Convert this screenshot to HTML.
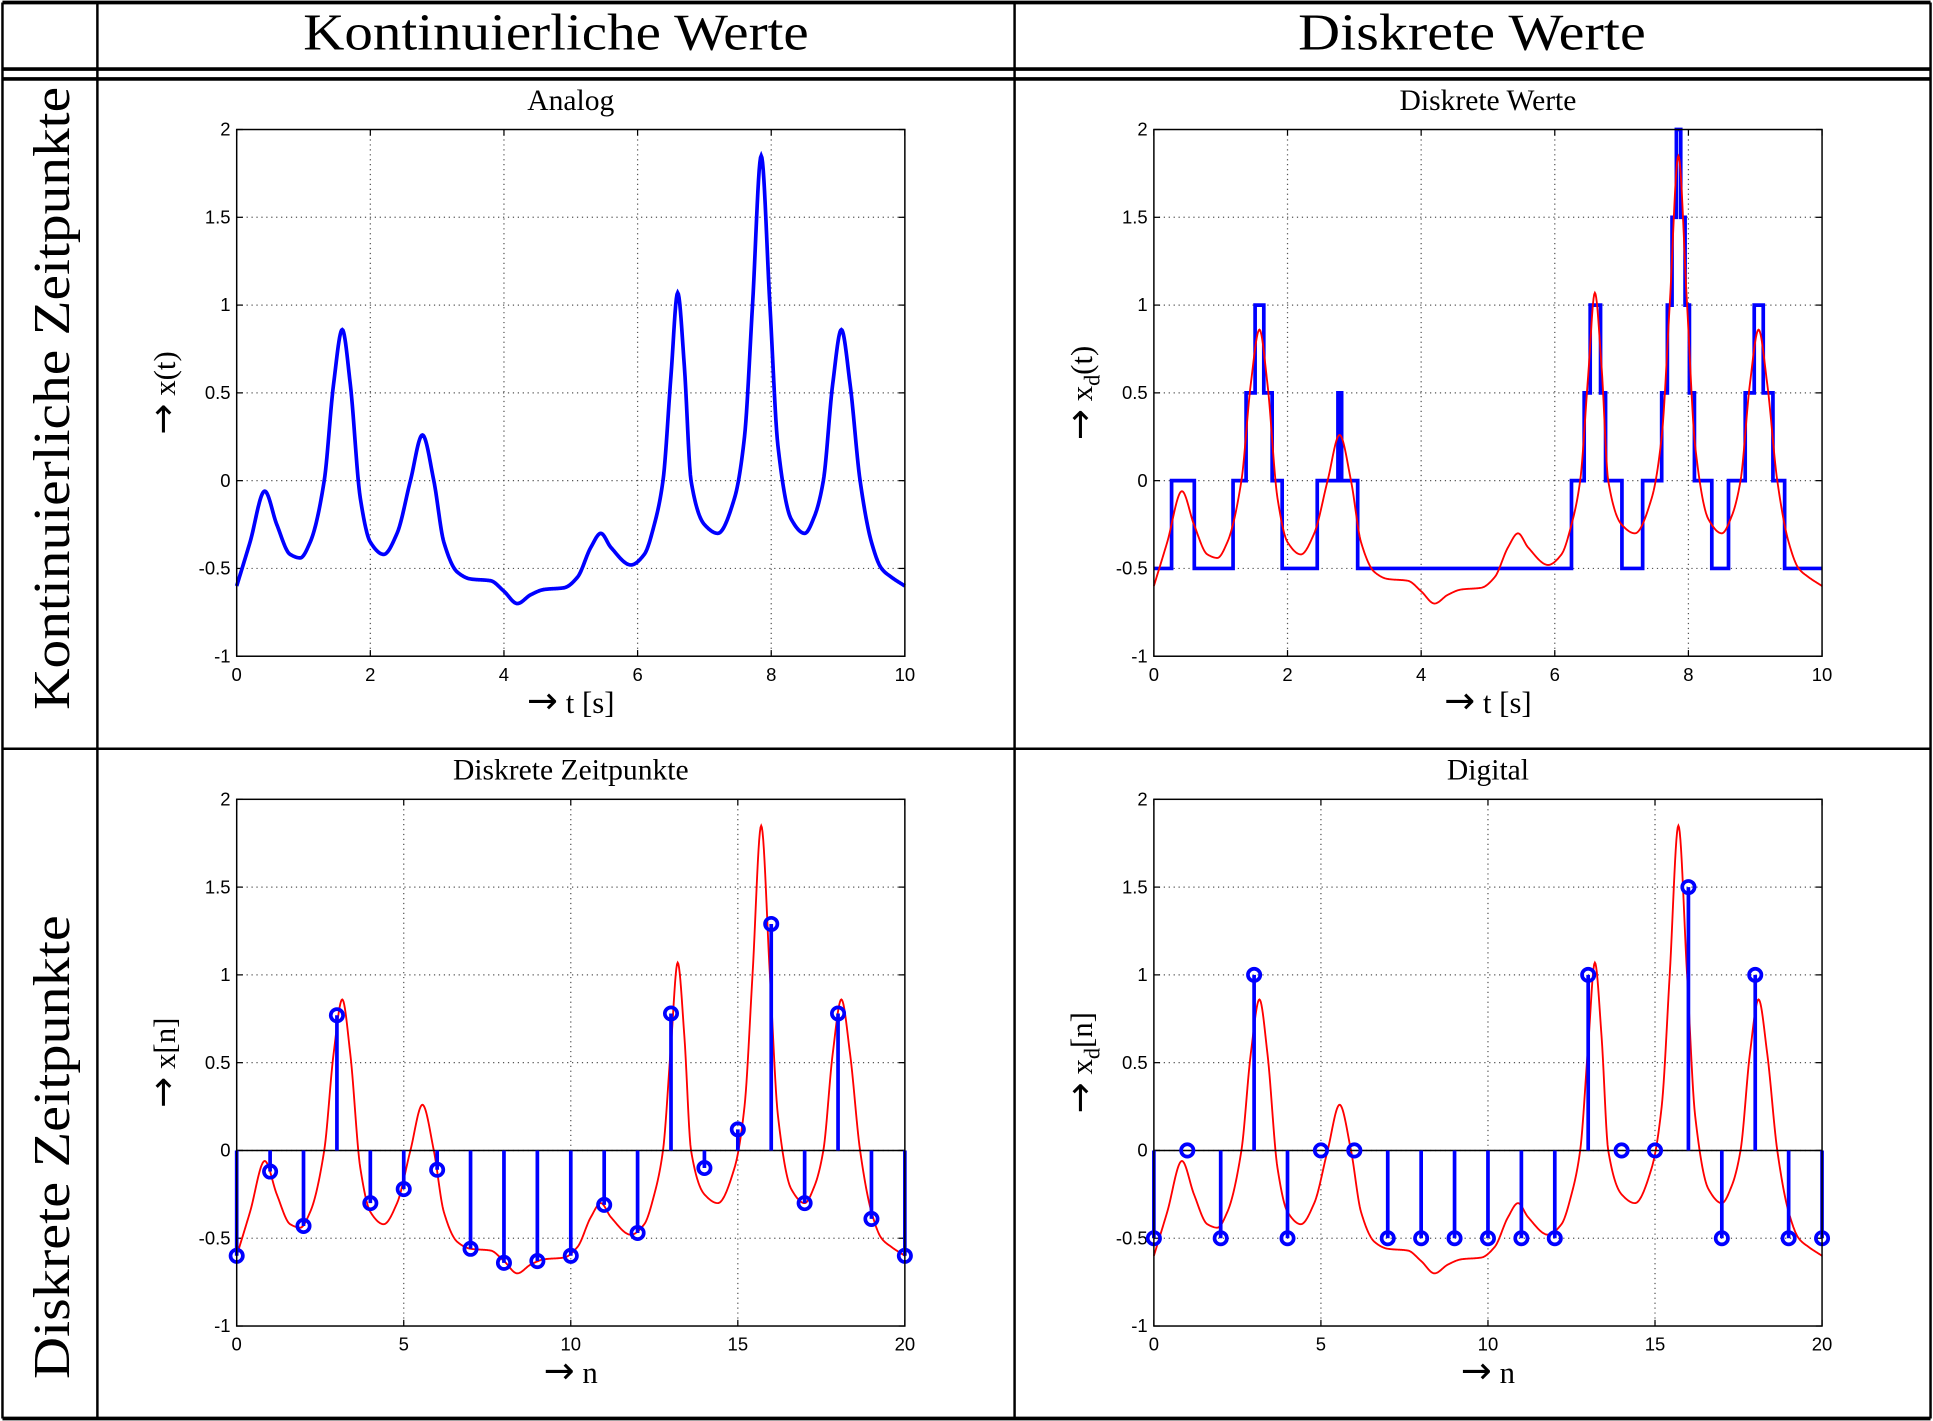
<!DOCTYPE html>
<html><head><meta charset="utf-8"><style>
html,body{margin:0;padding:0;background:#fff}
svg{display:block}
</style></head><body>
<svg id="fig" xmlns="http://www.w3.org/2000/svg" width="1933" height="1421" viewBox="0 0 1568 1152" preserveAspectRatio="none">
<rect x="0" y="0" width="1568" height="1152" fill="#fff"/>
<g stroke="#000" fill="none">
<line x1="2" y1="2" x2="1566" y2="2" stroke-width="3"/>
<line x1="2" y1="56" x2="1566" y2="56" stroke-width="3"/>
<line x1="2" y1="64" x2="1566" y2="64" stroke-width="3"/>
<line x1="2" y1="607" x2="1566" y2="607" stroke-width="2"/>
<line x1="2" y1="1150" x2="1566" y2="1150" stroke-width="3"/>
<line x1="2" y1="2" x2="2" y2="1150" stroke-width="2"/>
<line x1="79" y1="2" x2="79" y2="1150" stroke-width="2"/>
<line x1="823" y1="2" x2="823" y2="1150" stroke-width="2"/>
<line x1="1566" y1="2" x2="1566" y2="1150" stroke-width="2"/>
</g>
<g font-family="Liberation Serif, serif" fill="#000">
<text x="451" y="40" font-size="42" text-anchor="middle" textLength="410" lengthAdjust="spacingAndGlyphs">Kontinuierliche Werte</text>
<text x="1194" y="40" font-size="42" text-anchor="middle" textLength="282" lengthAdjust="spacingAndGlyphs">Diskrete Werte</text>
<text transform="translate(56,323) rotate(-90)" font-size="42" text-anchor="middle" textLength="505" lengthAdjust="spacingAndGlyphs">Kontinuierliche Zeitpunkte</text>
<text transform="translate(56,930) rotate(-90)" font-size="42" text-anchor="middle" textLength="376" lengthAdjust="spacingAndGlyphs">Diskrete Zeitpunkte</text>
</g>
<g id="plots"></g>
</svg>
<script>
// analog signal samples (time, value)
const analogT = [0,0.2,0.42,0.6,0.8,0.95,1.1,1.31,1.45,1.58,1.7,1.85,2.0,2.2,2.4,2.6,2.78,2.95,3.1,3.3,3.5,3.8,4.0,4.2,4.4,4.6,4.9,5.1,5.3,5.45,5.6,5.9,6.1,6.25,6.38,6.5,6.6,6.7,6.8,7.0,7.2,7.45,7.6,7.72,7.85,7.98,8.1,8.3,8.5,8.65,8.78,8.92,9.05,9.18,9.33,9.5,9.65,9.8,10];
const analogV = [-0.6,-0.35,-0.06,-0.25,-0.42,-0.44,-0.35,0.0,0.55,0.86,0.55,-0.1,-0.35,-0.42,-0.3,0.0,0.26,0.0,-0.35,-0.52,-0.56,-0.57,-0.63,-0.7,-0.65,-0.62,-0.61,-0.55,-0.38,-0.3,-0.38,-0.48,-0.42,-0.25,0.0,0.6,1.07,0.65,0.0,-0.25,-0.3,-0.1,0.25,1.0,1.85,1.0,0.2,-0.22,-0.3,-0.2,0.0,0.55,0.86,0.55,0.0,-0.35,-0.5,-0.55,-0.6];
// sampled values x[n]
const sampleN = [0,1,2,3,4,5,6,7,8,9,10,11,12,13,14,15,16,17,18,19,20];
const sampleV = [-0.6,-0.12,-0.43,0.77,-0.3,-0.22,-0.11,-0.56,-0.64,-0.63,-0.6,-0.31,-0.47,0.78,-0.1,0.12,1.29,-0.3,0.78,-0.39,-0.6];
// digital values x_d[n]
const digitalV = [-0.5,0,-0.5,1,-0.5,0,0,-0.5,-0.5,-0.5,-0.5,-0.5,-0.5,1,0,0,1.5,-0.5,1,-0.5,-0.5];
const yTicks = [-1,-0.5,0,0.5,1,1.5,2];
const yTickLabels = ['-1','-0.5','0','0.5','1','1.5','2'];
const tTicks = [0,2,4,6,8,10];
const nTicks = [0,5,10,15,20];

const NS='http://www.w3.org/2000/svg';
const root=document.getElementById('plots');
function mk(tag,attrs,parent){const e=document.createElementNS(NS,tag);for(const k in attrs)e.setAttribute(k,attrs[k]);(parent||root).appendChild(e);return e;}

// monotone cubic (Fritsch-Carlson) tangents
const tangents=(function(){
  const T=analogT,V=analogV,n=T.length,d=[],m=[];
  for(let i=0;i<n-1;i++)d.push((V[i+1]-V[i])/(T[i+1]-T[i]));
  m[0]=d[0];m[n-1]=d[n-2];
  for(let i=1;i<n-1;i++){
    if(d[i-1]*d[i]<=0)m[i]=0;
    else{const w1=2*(T[i+1]-T[i])+(T[i]-T[i-1]),w2=(T[i+1]-T[i])+2*(T[i]-T[i-1]);
      m[i]=(w1+w2)/(w1/d[i-1]+w2/d[i]);}
  }
  return m;
})();
function interp(t){
  const T=analogT,V=analogV;let i=0;
  if(t<=T[0])return V[0]; if(t>=T[T.length-1])return V[V.length-1];
  while(T[i+1]<t)i++;
  const h=T[i+1]-T[i], s=(t-T[i])/h;
  const m0=tangents[i]*h,m1=tangents[i+1]*h;
  const s2=s*s,s3=s2*s;
  return (2*s3-3*s2+1)*V[i]+(s3-2*s2+s)*m0+(-2*s3+3*s2)*V[i+1]+(s3-s2)*m1;
}

function panel(o){
  const g=mk('g',{});
  
  
  const L=o.x0,R=o.x0+542,Tp=o.y0,B=o.y0+427;
  const sx=v=>L+(v-o.xmin)/(o.xmax-o.xmin)*(R-L);
  const sy=v=>B-(v+1)/3*(B-Tp);
  const title=mk('text',{x:(L+R)/2,y:Tp-16,'font-family':'Liberation Serif, serif','font-size':24,'text-anchor':'middle'},g);
  title.textContent=o.title;
  
  
  o.xticks.forEach((v,i)=>{
    const x=sx(v);
    if(i>0&&i<o.xticks.length-1){const l=mk('line',{x1:x,y1:Tp,x2:x,y2:B,stroke:'#555','stroke-width':1,'stroke-dasharray':'1,3'},g);
    }
    mk('line',{x1:x,y1:B,x2:x,y2:B-5,stroke:'#000'},g);mk('line',{x1:x,y1:Tp,x2:x,y2:Tp+5,stroke:'#000'},g);
    const t=mk('text',{x:x,y:B+20,'font-family':'Liberation Sans, sans-serif','font-size':15,'text-anchor':'middle'},g);
    t.textContent=String(v);
    
  });
  yTicks.forEach((v,i)=>{
    const y=sy(v);
    if(i>0&&i<yTicks.length-1){const l=mk('line',{x1:L,y1:y,x2:R,y2:y,stroke:'#555','stroke-width':1,'stroke-dasharray':'1,3'},g);
    }
    mk('line',{x1:L,y1:y,x2:L+5,y2:y,stroke:'#000'},g);mk('line',{x1:R,y1:y,x2:R-5,y2:y,stroke:'#000'},g);
    const t=mk('text',{x:L-5,y:y+5,'font-family':'Liberation Sans, sans-serif','font-size':15,'text-anchor':'end'},g);
    t.textContent=yTickLabels[i];
    
  });
  const xl=mk('text',{x:(L+R)/2,y:B+46,'font-family':'Liberation Serif, serif','font-size':25,'text-anchor':'middle'},g);
  xl.innerHTML='<tspan font-size="30" font-family="DejaVu Sans, sans-serif">\u2192</tspan>'+o.xlabel;
  
  const yl=mk('text',{transform:`translate(${L-50},${(Tp+B)/2}) rotate(-90)`,'font-family':'Liberation Serif, serif','font-size':25,'text-anchor':'middle'},g);
  
  yl.innerHTML='<tspan font-size="30" font-family="DejaVu Sans, sans-serif">\u2192</tspan> '+o.ylabel;
  const content=mk('g',{},g);
  o.draw(content,sx,sy,L,R);
  const fr=mk('rect',{x:L,y:Tp,width:R-L,height:B-Tp,fill:'none',stroke:'#000','stroke-width':1.2},g);
  
}
function curvePath(sx,sy,scale){
  let d='';
  for(let i=0;i<=1000;i++){const t=i/100;d+=(i?'L':'M')+sx(t*scale).toFixed(2)+','+sy(interp(t)).toFixed(2);}
  return d;
}
function stems(g,sx,sy,vals){
  const b=mk('line',{x1:sx(0),y1:sy(0),x2:sx(20),y2:sy(0),stroke:'#000','stroke-width':1.2},g);
  
  vals.forEach((v,i)=>{
    const n=sampleN[i];
    const l=mk('line',{x1:sx(n),y1:sy(0),x2:sx(n),y2:sy(v),stroke:'#0000ff','stroke-width':3},g);
    
  });
  vals.forEach((v,i)=>{
    const n=sampleN[i];
    const c=mk('circle',{cx:sx(n),cy:sy(v),r:5,fill:'none',stroke:'#0000ff','stroke-width':3},g);
    
  });
}
panel({name:'analog-plot',title:'Analog',x0:192,y0:105,xmin:0,xmax:10,xticks:tTicks,xlabel:' t [s]',ylabel:'x(t)',
  draw:(g,sx,sy)=>{const p=mk('path',{d:curvePath(sx,sy,1),fill:'none',stroke:'#0000ff','stroke-width':3},g);
    }});
panel({name:'discrete-values-plot',title:'Diskrete Werte',x0:936,y0:105,xmin:0,xmax:10,xticks:tTicks,xlabel:' t [s]',ylabel:'x<tspan font-size="18" dy="6">d</tspan><tspan dy="-6">(t)</tspan>',
  draw:(g,sx,sy)=>{
    let d='',prev=null;
    for(let i=0;i<=2000;i++){const t=i/200;let q=Math.round(interp(t)*2)/2;if(q===0)q=0;
      if(prev===null)d='M'+sx(t)+','+sy(q);else if(q!==prev)d+='L'+sx(t)+','+sy(prev)+'L'+sx(t)+','+sy(q);
      prev=q;}
    d+='L'+sx(10)+','+sy(prev);
    const s=mk('path',{d:d,fill:'none',stroke:'#0000ff','stroke-width':3},g);
    
    const p=mk('path',{d:curvePath(sx,sy,1),fill:'none',stroke:'#ff0000','stroke-width':1.5},g);
    }});
panel({name:'discrete-time-plot',title:'Diskrete Zeitpunkte',x0:192,y0:648,xmin:0,xmax:20,xticks:nTicks,xlabel:' n',ylabel:'x[n]',
  draw:(g,sx,sy)=>{const p=mk('path',{d:curvePath(sx,sy,2),fill:'none',stroke:'#ff0000','stroke-width':1.5},g);
    
    stems(g,sx,sy,sampleV);}});
panel({name:'digital-plot',title:'Digital',x0:936,y0:648,xmin:0,xmax:20,xticks:nTicks,xlabel:' n',ylabel:'x<tspan font-size="18" dy="6">d</tspan><tspan dy="-6">[n]</tspan>',
  draw:(g,sx,sy)=>{const p=mk('path',{d:curvePath(sx,sy,2),fill:'none',stroke:'#ff0000','stroke-width':1.5},g);
    
    stems(g,sx,sy,digitalV);}});
</script>
</body></html>
